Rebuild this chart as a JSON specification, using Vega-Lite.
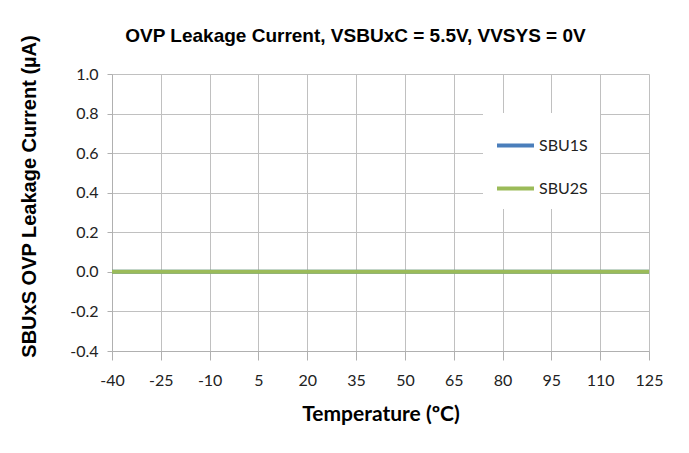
{
  "$schema": "https://vega.github.io/schema/vega-lite/v6.json",
  "autosize": {"type": "none"},
  "width": 537,
  "height": 277,
  "padding": {"left": 112, "top": 74, "right": 40, "bottom": 102},
  "background": "white",
  "title": {
    "text": "OVP Leakage Current, VSBUxC = 5.5V, VVSYS = 0V",
    "font": "Arial",
    "fontSize": 19,
    "fontWeight": "bold",
    "color": "black",
    "anchor": "middle",
    "frame": "group",
    "baseline": "alphabetic",
    "dx": -25,
    "offset": -26
  },
  "data": {
    "values": [
      {"t": -40, "i": 0, "s": "SBU1S"}, {"t": -25, "i": 0, "s": "SBU1S"}, {"t": -10, "i": 0, "s": "SBU1S"}, {"t": 5, "i": 0, "s": "SBU1S"},
      {"t": 20, "i": 0, "s": "SBU1S"}, {"t": 35, "i": 0, "s": "SBU1S"}, {"t": 50, "i": 0, "s": "SBU1S"}, {"t": 65, "i": 0, "s": "SBU1S"},
      {"t": 80, "i": 0, "s": "SBU1S"}, {"t": 95, "i": 0, "s": "SBU1S"}, {"t": 110, "i": 0, "s": "SBU1S"}, {"t": 125, "i": 0, "s": "SBU1S"},
      {"t": -40, "i": 0, "s": "SBU2S"}, {"t": -25, "i": 0, "s": "SBU2S"}, {"t": -10, "i": 0, "s": "SBU2S"}, {"t": 5, "i": 0, "s": "SBU2S"},
      {"t": 20, "i": 0, "s": "SBU2S"}, {"t": 35, "i": 0, "s": "SBU2S"}, {"t": 50, "i": 0, "s": "SBU2S"}, {"t": 65, "i": 0, "s": "SBU2S"},
      {"t": 80, "i": 0, "s": "SBU2S"}, {"t": 95, "i": 0, "s": "SBU2S"}, {"t": 110, "i": 0, "s": "SBU2S"}, {"t": 125, "i": 0, "s": "SBU2S"}
    ]
  },
  "mark": {"type": "line", "strokeWidth": 4},
  "encoding": {
    "x": {
      "field": "t",
      "type": "quantitative",
      "scale": {"domain": [-40, 125], "nice": false, "zero": false},
      "axis": {
        "values": [-40, -25, -10, 5, 20, 35, 50, 65, 80, 95, 110, 125],
        "labelExpr": "datum.value < 0 ? '-' + format(-datum.value, 'd') : format(datum.value, 'd')",
        "title": "Temperature (ºC)",
        "titleFont": "Lato",
        "titleFontSize": 21,
        "titleFontWeight": "bold",
        "titleColor": "black",
        "titlePadding": 15,
        "labelFont": "Lato",
        "labelFontSize": 16,
        "labelColor": "#222222",
        "labelPadding": 12,
        "labelFlush": false,
        "domainColor": "#b0b0b0",
        "tickColor": "#b0b0b0",
        "tickSize": 9,
        "gridColor": "#c0c0c0"
      }
    },
    "y": {
      "field": "i",
      "type": "quantitative",
      "scale": {"domain": [-0.4, 1.0], "nice": false, "zero": false},
      "axis": {
        "values": [-0.4, -0.2, 0, 0.2, 0.4, 0.6, 0.8, 1.0],
        "labelExpr": "datum.value < -0.01 ? '-' + format(-datum.value, '.1f') : format(datum.value, '.1f')",
        "title": "SBUxS OVP Leakage Current (µA)",
        "titleFont": "Arial",
        "titleFontSize": 20,
        "titleFontWeight": "bold",
        "titleColor": "black",
        "titleX": -83,
        "titleY": 122,
        "titleBaseline": "middle",
        "titleAlign": "center",
        "labelFont": "Lato",
        "labelFontSize": 16,
        "labelColor": "#222222",
        "labelPadding": 9,
        "domainColor": "#b0b0b0",
        "tickColor": "#b0b0b0",
        "tickSize": 5,
        "gridColor": "#c0c0c0"
      }
    },
    "color": {
      "field": "s",
      "type": "nominal",
      "scale": {"domain": ["SBU1S", "SBU2S"], "range": ["#4a7ebb", "#9bbb59"]},
      "legend": {
        "title": null,
        "orient": "none",
        "legendX": 371,
        "legendY": 39,
        "fillColor": "white",
        "padding": 12,
        "symbolType": "stroke",
        "symbolStrokeWidth": 4,
        "symbolSize": 1369,
        "labelFont": "Lato",
        "labelFontSize": 16,
        "labelColor": "#222222",
        "labelOffset": 3,
        "rowPadding": 14
      }
    },
    "order": {"field": "s"}
  },
  "config": {
    "view": {"stroke": null}
  }
}
